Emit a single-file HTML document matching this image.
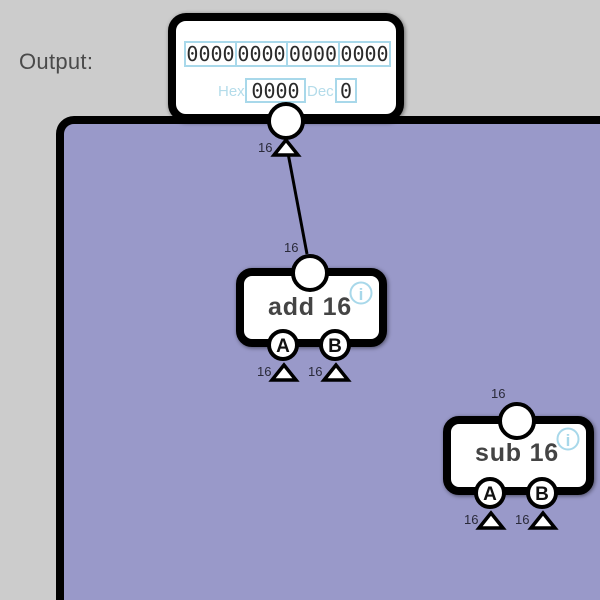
<!DOCTYPE html>
<html><head><meta charset="utf-8"><style>
html,body{margin:0;padding:0;width:600px;height:600px;overflow:hidden;background:#cccccc;}
svg{display:block;}
</style></head><body>
<svg width="600" height="600" viewBox="0 0 600 600" xmlns="http://www.w3.org/2000/svg">
<defs>
<filter id="sh" x="-20%" y="-20%" width="140%" height="140%">
<feGaussianBlur in="SourceAlpha" stdDeviation="2"/>
<feOffset dx="1" dy="1" result="b"/>
<feComponentTransfer><feFuncA type="linear" slope="0.5"/></feComponentTransfer>
<feMerge><feMergeNode/><feMergeNode in="SourceGraphic"/></feMerge>
</filter>
</defs>
<rect width="600" height="600" fill="#cccccc"/>
<text x="19" y="69" font-family="Liberation Sans, DejaVu Sans, sans-serif" font-size="22" fill="#4a4a4a" letter-spacing="0.3">Output:</text>

<!-- panel -->
<path d="M60,600 V134 A14,14 0 0 1 74,120 H600 V600 Z" fill="#9999c9"/>
<path d="M60,600 V134 A14,14 0 0 1 74,120 H600" fill="none" stroke="#000" stroke-width="8"/>

<!-- output box -->
<rect x="172" y="17" width="228" height="101" rx="14" fill="#fff" stroke="#000" stroke-width="8" filter="url(#sh)"/>
<g fill="none" stroke="#a8d8ea" stroke-width="2">
<rect x="185" y="42" width="51" height="24"/>
<rect x="236" y="42" width="51" height="24"/>
<rect x="287" y="42" width="52" height="24"/>
<rect x="339" y="42" width="51" height="24"/>
<rect x="246" y="79" width="59" height="23"/>
<rect x="336" y="79" width="20" height="23"/>
</g>
<g font-family="DejaVu Sans Mono, Liberation Mono, monospace" font-size="20" fill="#2a2a2a" text-anchor="middle">
<text x="210.5" y="61">0000</text>
<text x="261.5" y="61">0000</text>
<text x="313" y="61">0000</text>
<text x="364.5" y="61">0000</text>
<text x="275.5" y="98">0000</text>
<text x="346" y="98">0</text>
</g>
<g font-family="Liberation Sans, DejaVu Sans, sans-serif" font-size="15" fill="#b4dcea">
<text x="218" y="96">Hex</text>
<text x="307" y="96">Dec</text>
</g>

<!-- output pin -->
<circle cx="286" cy="121" r="17" fill="#fff" stroke="#000" stroke-width="4"/>
<line x1="288" y1="153" x2="307" y2="254" stroke="#000" stroke-width="3"/>
<polygon points="286,140 274,155 298,155" fill="#fff" stroke="#000" stroke-width="3.5" stroke-linejoin="miter"/>
<text x="258" y="152" font-family="Liberation Sans, DejaVu Sans, sans-serif" font-size="13" fill="#2a2a3a">16</text>

<!-- add component -->
<g id="add">
<rect x="240" y="272" width="143" height="71" rx="12" fill="#fff" stroke="#000" stroke-width="8" filter="url(#sh)"/>
<circle cx="310" cy="273" r="17" fill="#fff" stroke="#000" stroke-width="4"/>
<text x="284" y="252" font-family="Liberation Sans, DejaVu Sans, sans-serif" font-size="13" fill="#2a2a3a">16</text>
<text x="310" y="315" text-anchor="middle" font-family="Liberation Sans, DejaVu Sans, sans-serif" font-weight="bold" font-size="25" fill="#444" letter-spacing="0.8">add 16</text>
<circle cx="361" cy="293" r="10.5" fill="none" stroke="#a8d8ea" stroke-width="2"/>
<text x="361" y="300" text-anchor="middle" font-family="Liberation Sans, DejaVu Sans, sans-serif" font-weight="bold" font-size="17" fill="#a8d8ea">i</text>
<circle cx="283" cy="345" r="14" fill="#fff" stroke="#000" stroke-width="4"/>
<circle cx="335" cy="345" r="14" fill="#fff" stroke="#000" stroke-width="4"/>
<text x="283" y="352" text-anchor="middle" font-family="Liberation Sans, DejaVu Sans, sans-serif" font-weight="bold" font-size="19" fill="#111">A</text>
<text x="335" y="352" text-anchor="middle" font-family="Liberation Sans, DejaVu Sans, sans-serif" font-weight="bold" font-size="19" fill="#111">B</text>
<polygon points="284,365 272,380 296,380" fill="#fff" stroke="#000" stroke-width="3.5"/>
<polygon points="336,365 324,380 348,380" fill="#fff" stroke="#000" stroke-width="3.5"/>
<text x="257" y="376" font-family="Liberation Sans, DejaVu Sans, sans-serif" font-size="13" fill="#2a2a3a">16</text>
<text x="308" y="376" font-family="Liberation Sans, DejaVu Sans, sans-serif" font-size="13" fill="#2a2a3a">16</text>
</g>

<!-- sub component -->
<g transform="translate(207,148)">
<rect x="240" y="272" width="143" height="71" rx="12" fill="#fff" stroke="#000" stroke-width="8" filter="url(#sh)"/>
<circle cx="310" cy="273" r="17" fill="#fff" stroke="#000" stroke-width="4"/>
<text x="284" y="250" font-family="Liberation Sans, DejaVu Sans, sans-serif" font-size="13" fill="#2a2a3a">16</text>
<text x="310" y="313" text-anchor="middle" font-family="Liberation Sans, DejaVu Sans, sans-serif" font-weight="bold" font-size="25" fill="#444" letter-spacing="0.8">sub 16</text>
<circle cx="361" cy="291" r="10.5" fill="none" stroke="#a8d8ea" stroke-width="2"/>
<text x="361" y="298" text-anchor="middle" font-family="Liberation Sans, DejaVu Sans, sans-serif" font-weight="bold" font-size="17" fill="#a8d8ea">i</text>
<circle cx="283" cy="345" r="14" fill="#fff" stroke="#000" stroke-width="4"/>
<circle cx="335" cy="345" r="14" fill="#fff" stroke="#000" stroke-width="4"/>
<text x="283" y="352" text-anchor="middle" font-family="Liberation Sans, DejaVu Sans, sans-serif" font-weight="bold" font-size="19" fill="#111">A</text>
<text x="335" y="352" text-anchor="middle" font-family="Liberation Sans, DejaVu Sans, sans-serif" font-weight="bold" font-size="19" fill="#111">B</text>
<polygon points="284,365 272,380 296,380" fill="#fff" stroke="#000" stroke-width="3.5"/>
<polygon points="336,365 324,380 348,380" fill="#fff" stroke="#000" stroke-width="3.5"/>
<text x="257" y="376" font-family="Liberation Sans, DejaVu Sans, sans-serif" font-size="13" fill="#2a2a3a">16</text>
<text x="308" y="376" font-family="Liberation Sans, DejaVu Sans, sans-serif" font-size="13" fill="#2a2a3a">16</text>
</g>
</svg>
</body></html>
